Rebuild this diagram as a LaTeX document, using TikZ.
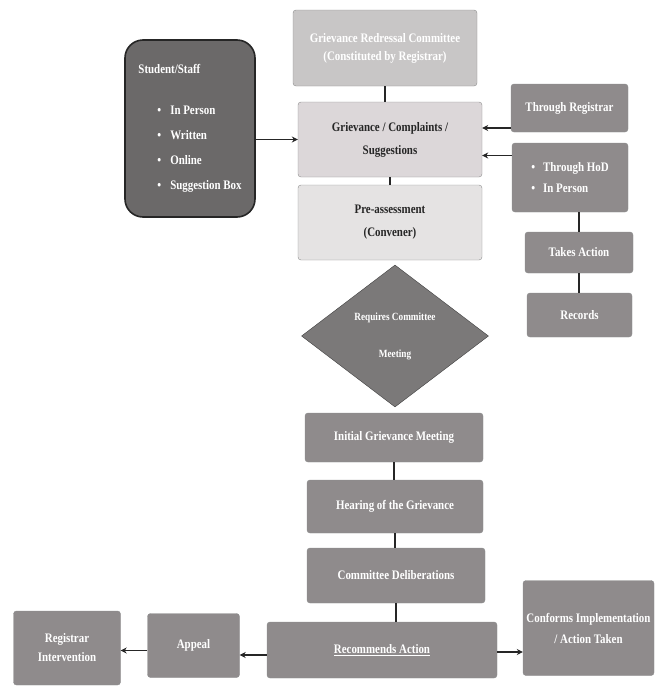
\documentclass[tikz,border=0pt]{standalone}
\usepackage{fontspec}
\setmainfont{Liberation Serif}[FakeStretch=0.84]
\usetikzlibrary{shapes.geometric}
\usetikzlibrary{arrows.meta}

\definecolor{commgray}{HTML}{C8C6C6}
\definecolor{grievgray}{HTML}{DCD7D9}
\definecolor{pregray}{HTML}{E5E3E3}
\definecolor{studgray}{HTML}{6B6969}
\definecolor{midgray}{HTML}{8F8B8C}
\definecolor{diagray}{HTML}{7B7979}

\begin{document}
\begin{tikzpicture}[x=1pt, y=-1pt, font=\bfseries\fontsize{13}{15}\selectfont,
    box/.style={draw=black!45, rounded corners=3pt, fill=midgray, text=white, align=center, inner sep=2pt},
    lightbox/.style={box, text=black!85},
    link/.style={line width=1.6pt, black!85},
    flow/.style={link, -{Stealth[length=6pt, width=6pt]}}]
    \useasboundingbox (0,0) rectangle (654,686);

    % --- Intake ---
    \node[box, fill=commgray, minimum width=184pt, minimum height=76pt] (comm) at (385,48)
        {Grievance Redressal Committee\\[3pt](Constituted by Registrar)};
    \node[lightbox, fill=grievgray, minimum width=184pt, minimum height=75pt] (griev) at (390,139.5)
        {Grievance / Complaints /\\[8pt]Suggestions};
    \node[lightbox, fill=pregray, minimum width=184pt, minimum height=75pt] (pre) at (390,222.5)
        {Pre-assessment\\[8pt](Convener)};

    % Student / staff channels
    \node[box, fill=studgray, draw=black!85, line width=1.6pt, rounded corners=18pt,
        minimum width=130pt, minimum height=177pt, align=left] (student) at (190,128.5)
        {Student/Staff\\[26pt]
         \hspace*{19pt}\textbullet\hspace{9pt}In Person\\[10pt]
         \hspace*{19pt}\textbullet\hspace{9pt}Written\\[10pt]
         \hspace*{19pt}\textbullet\hspace{9pt}Online\\[10pt]
         \hspace*{19pt}\textbullet\hspace{9pt}Suggestion Box};

    % Other channels (right)
    \node[box, minimum width=117pt, minimum height=48pt] (reg) at (569.5,108) {Through Registrar};
    \node[box, minimum width=116pt, minimum height=69pt, align=left] (hod) at (570,177.5)
        {\textbullet\hspace{8pt}Through HoD\\[6pt]\textbullet\hspace{8pt}In Person};
    \node[box, minimum width=108pt, minimum height=41pt] (takes) at (579,252.5) {Takes Action};
    \node[box, minimum width=105pt, minimum height=44pt] (records) at (579.5,315) {Records};

    % Decision
    \node[diamond, draw=black!75, fill=diagray, text=white, inner sep=0pt, align=center,
        minimum width=187pt, minimum height=142pt, font=\bfseries\fontsize{11}{13}\selectfont] (decide) at (395,336)
        {Requires Committee\\[24pt]Meeting};

    % --- Committee process ---
    \node[box, minimum width=178pt, minimum height=49pt] (initial) at (394,437.5) {Initial Grievance Meeting};
    \node[box, minimum width=176pt, minimum height=53pt] (hearing) at (395,506.5) {Hearing of the Grievance};
    \node[box, minimum width=178pt, minimum height=55pt] (delib) at (396,575.5) {Committee Deliberations};
    \node[box, minimum width=230pt, minimum height=56pt] (recomm) at (382,650) {\underline{Recommends Action}};
    \node[box, minimum width=131pt, minimum height=95pt] (conforms) at (588.5,628)
        {Conforms Implementation\\[6pt]/ Action Taken};
    \node[box, minimum width=92pt, minimum height=64pt] (appeal) at (193.5,645.5) {Appeal};
    \node[box, minimum width=107pt, minimum height=74pt] (regint) at (67,648) {Registrar\\[4pt]Intervention};

    % Connectors
    \draw[link] (comm.south) -- (comm.south |- griev.north);
    \draw[link] (griev.south) -- (pre.north);
    \draw[flow] (student.east |- griev.west) -- (griev.west);
    \draw[flow] ([yshift=-20pt]reg.west) -- ([yshift=-20pt]reg.west -| griev.east);
    \draw[flow] ([yshift=22pt]hod.west) -- ([yshift=22pt]hod.west -| griev.east);
    \draw[link] (takes.north |- hod.south) -- (takes.north);
    \draw[link] (takes.south) -- (takes.south |- records.north);
    \draw[link] (initial.south) -- (initial.south |- hearing.north);
    \draw[link] (hearing.south) -- (hearing.south |- delib.north);
    \draw[link] (delib.south) -- (delib.south |- recomm.north);
    \draw[flow] ([yshift=-2pt]recomm.east) -- ([yshift=-2pt]recomm.east -| conforms.west);
    \draw[flow] ([yshift=-5pt]recomm.west) -- ([yshift=-5pt]recomm.west -| appeal.east);
    \draw[flow] ([yshift=-5pt]appeal.west) -- ([yshift=-5pt]appeal.west -| regint.east);
\end{tikzpicture}
\end{document}
